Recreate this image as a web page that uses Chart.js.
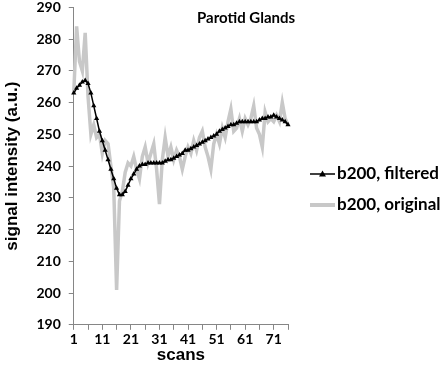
<!DOCTYPE html>
<html>
<head>
<meta charset="utf-8">
<script src="https://cdn.jsdelivr.net/npm/chart.js@4/dist/chart.umd.min.js"></script>
<style>
  html, body { margin: 0; padding: 0; background: #fff; overflow: hidden; }
  #wrap { width: 440px; height: 371px; overflow: hidden; }
  #myChart { display: block; margin-top: -9px; }
</style>
</head>
<body>
<div id="wrap"><canvas id="myChart" width="440" height="380"></canvas></div>
<script>
// scans 1..76
const scans = [];
for (let i = 1; i <= 76; i++) scans.push(String(i));

const filtered = [263, 264.5, 265.5, 266.5, 267, 266, 263, 259, 255, 251,
  248, 245, 242, 239, 236, 233, 231, 231, 232, 234,
  236, 237.5, 239, 240, 240.5, 240.5, 241, 241, 241, 241,
  241, 241, 241.5, 242, 242, 242.5, 243, 243.5, 244, 245,
  245, 245.5, 246, 246.5, 247, 247.5, 248, 248.5, 249, 249.5,
  250, 251, 251.5, 252, 252.5, 253, 253, 253.5, 254, 254,
  254, 254, 254, 254, 254, 254.5, 255, 255, 255.5, 255.5,
  256, 255.5, 255, 254.5, 254, 253];

const original = [263, 284, 273, 270, 282, 262, 250, 253, 249, 250,
  244, 248, 247, 240, 233, 201, 229, 232, 238, 241,
  240, 243, 239, 236, 243, 246, 241, 244, 247, 239,
  228, 242, 249, 243, 246, 242, 245, 243, 239, 243,
  246, 244, 248, 245, 249, 251, 246, 243, 239, 247,
  250, 247, 252, 249, 254, 258, 251, 252, 255, 251,
  255, 253, 255, 259, 252, 250, 246, 257, 254, 255,
  254, 256, 254, 260, 255, 253];

const yMin = 190, yMax = 290, yStep = 10;
const chartTitle = "Parotid Glands";
const seriesNames = ["b200, filtered", "b200, original"];

const axisGray = "#868686";
const grayLine = "#c8c8c8";
const shift = 9; // canvas is pulled up by this much

// title + legend drawn by hand, Excel style
const extras = {
  id: "extras",
  afterDraw(chart) {
    const c = chart.ctx;
    c.save();
    c.fillStyle = "#000";
    c.font = "bold 15px Lato";
    c.textBaseline = "middle";
    c.textAlign = "left";
    c.fillText(chartTitle, 197, 18 + shift);

    // legend
    const lx = 310, y1 = 174 + shift, y2 = 205 + shift;
    c.strokeStyle = "#000";
    c.lineWidth = 1.5;
    c.beginPath(); c.moveTo(lx, y1); c.lineTo(lx + 25, y1); c.stroke();
    c.beginPath();
    c.moveTo(lx + 12.5, y1 - 3.5); c.lineTo(lx + 16, y1 + 2.5); c.lineTo(lx + 9, y1 + 2.5);
    c.closePath(); c.fillStyle = "#000"; c.fill();
    c.strokeStyle = grayLine;
    c.lineWidth = 4;
    c.beginPath(); c.moveTo(lx, y2); c.lineTo(lx + 25, y2); c.stroke();
    c.fillStyle = "#000";
    c.font = "bold 17px Lato";
    c.fillText(seriesNames[0], lx + 27, y1);
    c.fillText(seriesNames[1], lx + 27, y2);
    c.restore();
  }
};

const config = {
  type: "line",
  data: {
    labels: scans,
    datasets: [
      {
        label: seriesNames[0],
        data: filtered,
        borderColor: "#000",
        backgroundColor: "#000",
        borderWidth: 1.5,
        pointStyle: "triangle",
        pointRadius: 3,
        pointBorderWidth: 0,
        tension: 0,
        order: 0
      },
      {
        label: seriesNames[1],
        data: original,
        borderColor: grayLine,
        backgroundColor: grayLine,
        borderWidth: 3.5,
        pointRadius: 0,
        tension: 0,
        order: 1
      }
    ]
  },
  options: {
    responsive: false,
    animation: false,
    layout: { padding: { top: -22, right: 152, bottom: 5, left: 0 } },
    plugins: { legend: { display: false }, tooltip: { enabled: false } },
    scales: {
      x: {
        offset: false,
        border: { color: axisGray, width: 1 },
        grid: {
          drawOnChartArea: false,
          tickLength: 5,
          tickColor: (ctx) => (ctx.index % 5 === 0 ? axisGray : "rgba(0,0,0,0)")
        },
        ticks: {
          autoSkip: false,
          maxRotation: 0,
          color: "#000",
          font: { family: "Lato", weight: "bold", size: 14 },
          padding: 1,
          callback: function (v, i) { return i % 10 === 0 ? this.getLabelForValue(v) : ""; }
        },
        title: {
          display: true,
          text: "scans",
          color: "#000",
          font: { family: "Liberation Sans", weight: "bold", size: 17 },
          padding: { top: -3, bottom: 0 }
        }
      },
      y: {
        min: yMin,
        max: yMax,
        border: { color: axisGray, width: 1 },
        grid: { drawOnChartArea: false, tickLength: 5, tickColor: axisGray },
        ticks: {
          stepSize: yStep,
          color: "#000",
          font: { family: "Lato", weight: "bold", size: 14 },
          padding: 8
        },
        title: {
          display: true,
          text: "signal intensity (a.u.)",
          color: "#000",
          font: { family: "Liberation Sans", weight: "bold", size: 17 },
          padding: { top: 2, bottom: 6 }
        }
      }
    }
  },
  plugins: [extras]
};

var myChart = new Chart(document.getElementById("myChart"), config);
</script>
</body>
</html>
